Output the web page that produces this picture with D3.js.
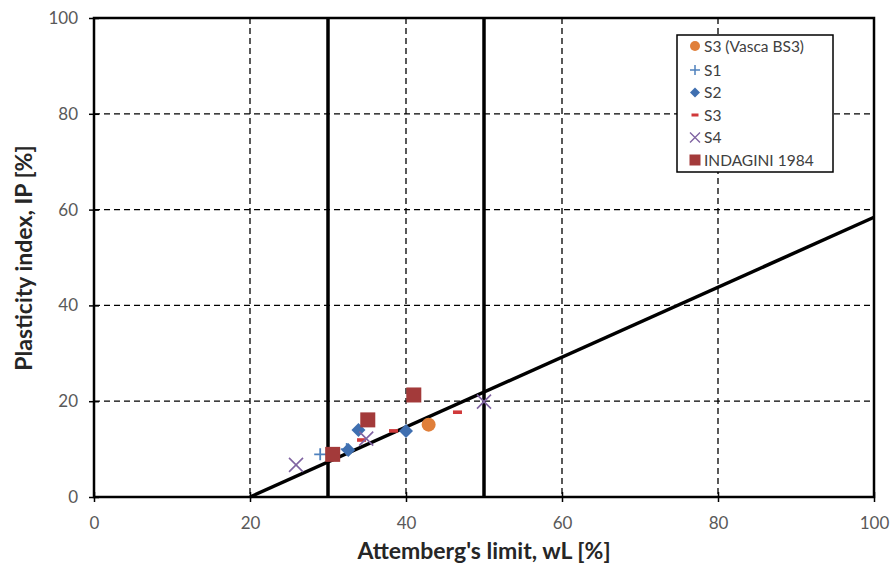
<!DOCTYPE html>
<html><head><meta charset="utf-8">
<script src="https://cdn.jsdelivr.net/npm/d3@7"></script>
<style>body{margin:0;background:#fff}svg{display:block}</style>
</head><body>
<svg id="c" width="894" height="571"></svg>
<script>
const xTicks = [0,20,40,60,80,100];
const yTicks = [0,20,40,60,80,100];
const aLine = [[20,0],[100,58.4]];
const limitLines = [30,50];
const seriesNames = ["S3 (Vasca BS3)","S1","S2","S3","S4","INDAGINI 1984"];
const s3vasca = [[42.9,15.1]];
const s1 = [[29.0,8.9],[32.4,10.0]];
const s2 = [[33.9,14.0],[40.0,13.8],[32.6,9.8]];
const s3 = [[46.6,17.7],[38.4,13.8],[34.3,11.9]];
const s4 = [[25.9,6.7],[34.9,12.2],[50.0,19.9]];
const indagini = [[41.0,21.3],[35.1,16.1],[30.6,8.9]];

const svg = d3.select("#c");
const m = {l:94, r:874, t:18, b:497};
const x = d3.scaleLinear().domain([0,100]).range([m.l,m.r]);
const y = d3.scaleLinear().domain([0,100]).range([m.b,m.t]);
const font = "Lato, 'Open Sans', sans-serif";

// grid
const g = svg.append("g");
g.selectAll(".gx").data(xTicks.filter(d=>d>0&&d<100)).join("line")
 .attr("x1",d=>x(d)).attr("x2",d=>x(d)).attr("y1",m.t).attr("y2",m.b)
 .attr("stroke","#000").attr("stroke-width",1.3).attr("stroke-dasharray","6,4");
g.selectAll(".gy").data(yTicks.filter(d=>d>0&&d<100)).join("line")
 .attr("y1",d=>y(d)).attr("y2",d=>y(d)).attr("x1",m.l).attr("x2",m.r)
 .attr("stroke","#000").attr("stroke-width",1.3).attr("stroke-dasharray","6,4");

// axes
const xa = svg.append("g").attr("transform",`translate(0,${m.b})`)
 .call(d3.axisBottom(x).tickValues(xTicks).tickSize(5).tickPadding(15));
const ya = svg.append("g").attr("transform",`translate(${m.l},0)`)
 .call(d3.axisLeft(y).tickValues(yTicks).tickSize(5).tickPadding(11));
[xa,ya].forEach(a=>{
  a.select(".domain").remove();
  a.selectAll(".tick line").attr("stroke","#000").attr("stroke-width",1.5);
  a.selectAll(".tick text").attr("fill","#595959").style("font-family",font).style("font-size","17px");
});
xa.selectAll(".tick line").attr("y1",-5);
ya.selectAll(".tick line").attr("x1",5);

// border
svg.append("rect").attr("x",m.l).attr("y",m.t).attr("width",m.r-m.l).attr("height",m.b-m.t)
 .attr("fill","none").attr("stroke","#000").attr("stroke-width",2.5);

// limit lines
svg.selectAll(".ll").data(limitLines).join("line")
 .attr("x1",d=>x(d)).attr("x2",d=>x(d)).attr("y1",m.t).attr("y2",m.b)
 .attr("stroke","#000").attr("stroke-width",3.5);
// A line
svg.append("path").datum(aLine)
 .attr("d",d3.line().x(d=>x(d[0])).y(d=>y(d[1])))
 .attr("stroke","#000").attr("stroke-width",3.5).attr("fill","none");

// markers
const col = {vasca:"#E07F3A", s1:"#4F81BD", s2:"#3F6FB0", s3:"#D0393A", s4:"#8064A2", ind:"#A33A3A"};
function marker(sel, type, color){
  if(type==="circle") sel.append("circle").attr("r",7).attr("fill",color);
  else if(type==="plus") sel.append("path").attr("d","M-6,0H6M0,-6V6").attr("stroke",color).attr("stroke-width",1.8);
  else if(type==="diamond") sel.append("path").attr("d","M0,-7L7,0L0,7L-7,0Z").attr("fill",color);
  else if(type==="dash") sel.append("rect").attr("x",-4.5).attr("y",-1.8).attr("width",9).attr("height",3.6).attr("fill",color);
  else if(type==="cross") sel.append("path").attr("d","M-7,-7L7,7M-7,7L7,-7").attr("stroke",color).attr("stroke-width",1.6);
  else if(type==="square") sel.append("rect").attr("x",-7.5).attr("y",-7.5).attr("width",15).attr("height",15).attr("fill",color);
}
const series = [
  {data:s3vasca,type:"circle",color:col.vasca},
  {data:s1,type:"plus",color:col.s1},
  {data:s2,type:"diamond",color:col.s2},
  {data:s3,type:"dash",color:col.s3},
  {data:s4,type:"cross",color:col.s4},
  {data:indagini,type:"square",color:col.ind}
];
series.forEach(s=>{
  s.data.forEach(p=>{
    const gg = svg.append("g").attr("transform",`translate(${x(p[0])},${y(p[1])})`);
    marker(gg,s.type,s.color);
  });
});

// legend
const lg = svg.append("g");
lg.append("rect").attr("x",677).attr("y",35).attr("width",156).attr("height",137)
 .attr("fill","#fff").attr("stroke","#000").attr("stroke-width",1.5);
const ly = [46,70,92.5,115,137.5,160];
seriesNames.forEach((n,i)=>{
  const gg = lg.append("g").attr("transform",`translate(695,${ly[i]})`);
  const s = series[i];
  if(s.type==="circle") gg.append("circle").attr("r",5).attr("fill",s.color);
  else if(s.type==="plus") gg.append("path").attr("d","M-5,0H5M0,-5V5").attr("stroke",s.color).attr("stroke-width",1.5);
  else if(s.type==="diamond") gg.append("path").attr("d","M0,-5L5,0L0,5L-5,0Z").attr("fill",s.color);
  else if(s.type==="dash") gg.append("rect").attr("x",-3.5).attr("y",-1.5).attr("width",7).attr("height",3).attr("fill",s.color);
  else if(s.type==="cross") gg.append("path").attr("d","M-5,-5L5,5M-5,5L5,-5").attr("stroke",s.color).attr("stroke-width",1.4);
  else gg.append("rect").attr("x",-5.5).attr("y",-5.5).attr("width",11).attr("height",11).attr("fill",s.color);
  lg.append("text").attr("x",704).attr("y",ly[i]).attr("dy","0.36em")
   .style("font-family",font).style("font-size","15.5px").attr("fill","#404040").text(n);
});

// axis titles
svg.append("text").attr("x",484).attr("y",559).attr("text-anchor","middle")
 .style("font-family",font).style("font-size","23px").style("font-weight","bold").attr("fill","#262626")
 .text("Attemberg's limit, wL [%]");
svg.append("text").attr("transform","translate(32,258) rotate(-90)").attr("text-anchor","middle")
 .style("font-family",font).style("font-size","23px").style("font-weight","bold").attr("fill","#262626")
 .text("Plasticity index, IP [%]");
</script>
</body></html>
